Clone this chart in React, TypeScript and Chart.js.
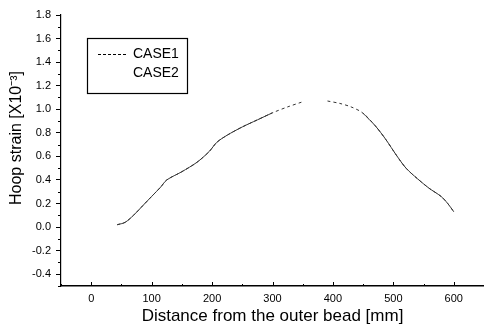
import React, { useEffect, useRef } from "react";
import { Chart, registerables } from "chart.js";

Chart.register(...registerables);

// Data
const distance = [43, 56, 70, 85, 100, 115, 125, 150, 175, 195, 208, 225, 250, 275, 300, 325, 348, 370, 391, 411, 430, 449, 470, 488, 505, 521, 540, 559, 579, 590, 600];
const case1 = [0.02, 0.04, 0.10, 0.18, 0.26, 0.34, 0.40, 0.47, 0.55, 0.64, 0.72, 0.78, 0.85, 0.91, 0.97, 1.02, 1.06, null, 1.07, 1.05, 1.02, 0.97, 0.86, 0.74, 0.61, 0.50, 0.41, 0.33, 0.26, 0.20, 0.13];
const case2 = [0.02, 0.04, 0.10, 0.18, 0.26, 0.34, 0.40, 0.47, 0.55, 0.64, 0.72, 0.78, 0.85, 0.91, 0.97, null, null, null, null, null, null, 0.97, 0.86, 0.74, 0.61, 0.50, 0.41, 0.33, 0.26, 0.20, 0.13];
const seriesLabels = ["CASE1", "CASE2"];
const xTicks = [0, 100, 200, 300, 400, 500, 600];
const yTicks = [-0.4, -0.2, 0.0, 0.2, 0.4, 0.6, 0.8, 1.0, 1.2, 1.4, 1.6, 1.8];
const xTitle = "Distance from the outer bead [mm]";
const yTitle = "Hoop strain [X10\u207B\u00B3]";

const FONT = "'Liberation Sans', Arial, sans-serif";

const toPoints = (ys: (number | null)[]) => distance.map((x, i) => ({ x, y: ys[i] }));

const decorPlugin = {
  id: "decor",
  afterDraw(chart: any) {
    const ctx = chart.ctx;
    const xs = chart.scales.x;
    const ys = chart.scales.y;
    const area = chart.chartArea;
    ctx.save();
    ctx.strokeStyle = "#000";
    ctx.lineWidth = 1;
    // x-axis inward ticks (major + minor)
    for (let v = -50; v <= 650; v += 50) {
      const px = Math.round(xs.getPixelForValue(v)) + 0.5;
      const major = xTicks.includes(v);
      ctx.beginPath();
      ctx.moveTo(px, area.bottom);
      ctx.lineTo(px, area.bottom - (major ? 4 : 2));
      ctx.stroke();
    }
    // y-axis minor ticks
    for (let i = 0; i < yTicks.length; i++) {
      const v = yTicks[i] - 0.1;
      const py = Math.round(ys.getPixelForValue(v)) + 0.5;
      ctx.beginPath();
      ctx.moveTo(area.left, py);
      ctx.lineTo(area.left - 3, py);
      ctx.stroke();
    }
    // y-axis title
    ctx.save();
    ctx.translate(17, 138);
    ctx.rotate(-Math.PI / 2);
    ctx.font = `16px ${FONT}`;
    ctx.fillStyle = "#000";
    ctx.textAlign = "center";
    ctx.textBaseline = "middle";
    ctx.fillText(yTitle, 0, 0);
    ctx.restore();
    // legend box
    const lx = 87, ly = 38, lw = 100, lh = 55;
    ctx.lineWidth = 1.2;
    ctx.strokeRect(lx + 0.5, ly + 0.5, lw, lh);
    ctx.font = `14px ${FONT}`;
    ctx.fillStyle = "#000";
    ctx.textBaseline = "middle";
    ctx.textAlign = "left";
    const ds = chart.data.datasets;
    ctx.setLineDash([3, 2]);
    ctx.lineWidth = 1;
    ctx.beginPath();
    ctx.moveTo(98, 54.5);
    ctx.lineTo(126, 54.5);
    ctx.stroke();
    ctx.setLineDash([]);
    ctx.fillText(ds[0].label, 133, 54);
    ctx.fillText(ds[1].label, 133, 73);
    ctx.restore();
  },
};

export default function App() {
  const ref = useRef<HTMLCanvasElement>(null);
  useEffect(() => {
    document.body.style.margin = "0";
    const chart = new Chart(ref.current!, {
      type: "line",
      data: {
        datasets: [
          {
            label: seriesLabels[0],
            data: toPoints(case1),
            borderColor: "#333",
            borderWidth: 1,
            borderDash: [3, 3],
            pointRadius: 0,
            tension: 0.3,
            spanGaps: false,
          },
          {
            label: seriesLabels[1],
            data: toPoints(case2),
            borderColor: "#333",
            borderWidth: 1,
            pointRadius: 0,
            tension: 0.3,
            spanGaps: false,
          },
        ],
      },
      options: {
        animation: false,
        responsive: false,
        maintainAspectRatio: false,
        layout: { padding: { top: 15, right: 0, left: 0, bottom: 0 } },
        plugins: { legend: { display: false }, tooltip: { enabled: false } },
        scales: {
          x: {
            type: "linear",
            min: -50,
            max: 650,
            afterBuildTicks: (s: any) => {
              s.ticks = xTicks.map((v) => ({ value: v }));
            },
            afterFit: (s: any) => {
              s.height = 45;
            },
            grid: { display: true, drawOnChartArea: false, drawTicks: false, color: "#000" },
            border: { display: true, color: "#000", width: 1.5 },
            ticks: {
              padding: 6,
              color: "#000",
              font: { family: FONT, size: 11 },
              maxRotation: 0,
              autoSkip: false,
            },
            title: {
              display: true,
              text: xTitle,
              color: "#000",
              font: { family: FONT, size: 17 },
              padding: { top: 0, bottom: 4 },
            },
          },
          y: {
            type: "linear",
            min: -0.5,
            max: 1.8,
            afterBuildTicks: (s: any) => {
              s.ticks = yTicks.map((v) => ({ value: v }));
            },
            afterFit: (s: any) => {
              s.width = 61;
            },
            grid: { display: true, drawOnChartArea: false, drawTicks: true, tickLength: 5, color: "#000" },
            border: { display: true, color: "#000", width: 1.2 },
            ticks: {
              padding: 5,
              color: "#000",
              font: { family: FONT, size: 11 },
              autoSkip: false,
              callback: (v: any) => Number(v).toFixed(1),
            },
            title: { display: false },
          },
        },
      },
      plugins: [decorPlugin],
    });
    return () => chart.destroy();
  }, []);
  return (
    <div style={{ position: "absolute", left: 0, top: 0, width: 484, height: 331, background: "#fff" }}>
      <canvas ref={ref} width={484} height={331} style={{ display: "block" }} />
    </div>
  );
}
